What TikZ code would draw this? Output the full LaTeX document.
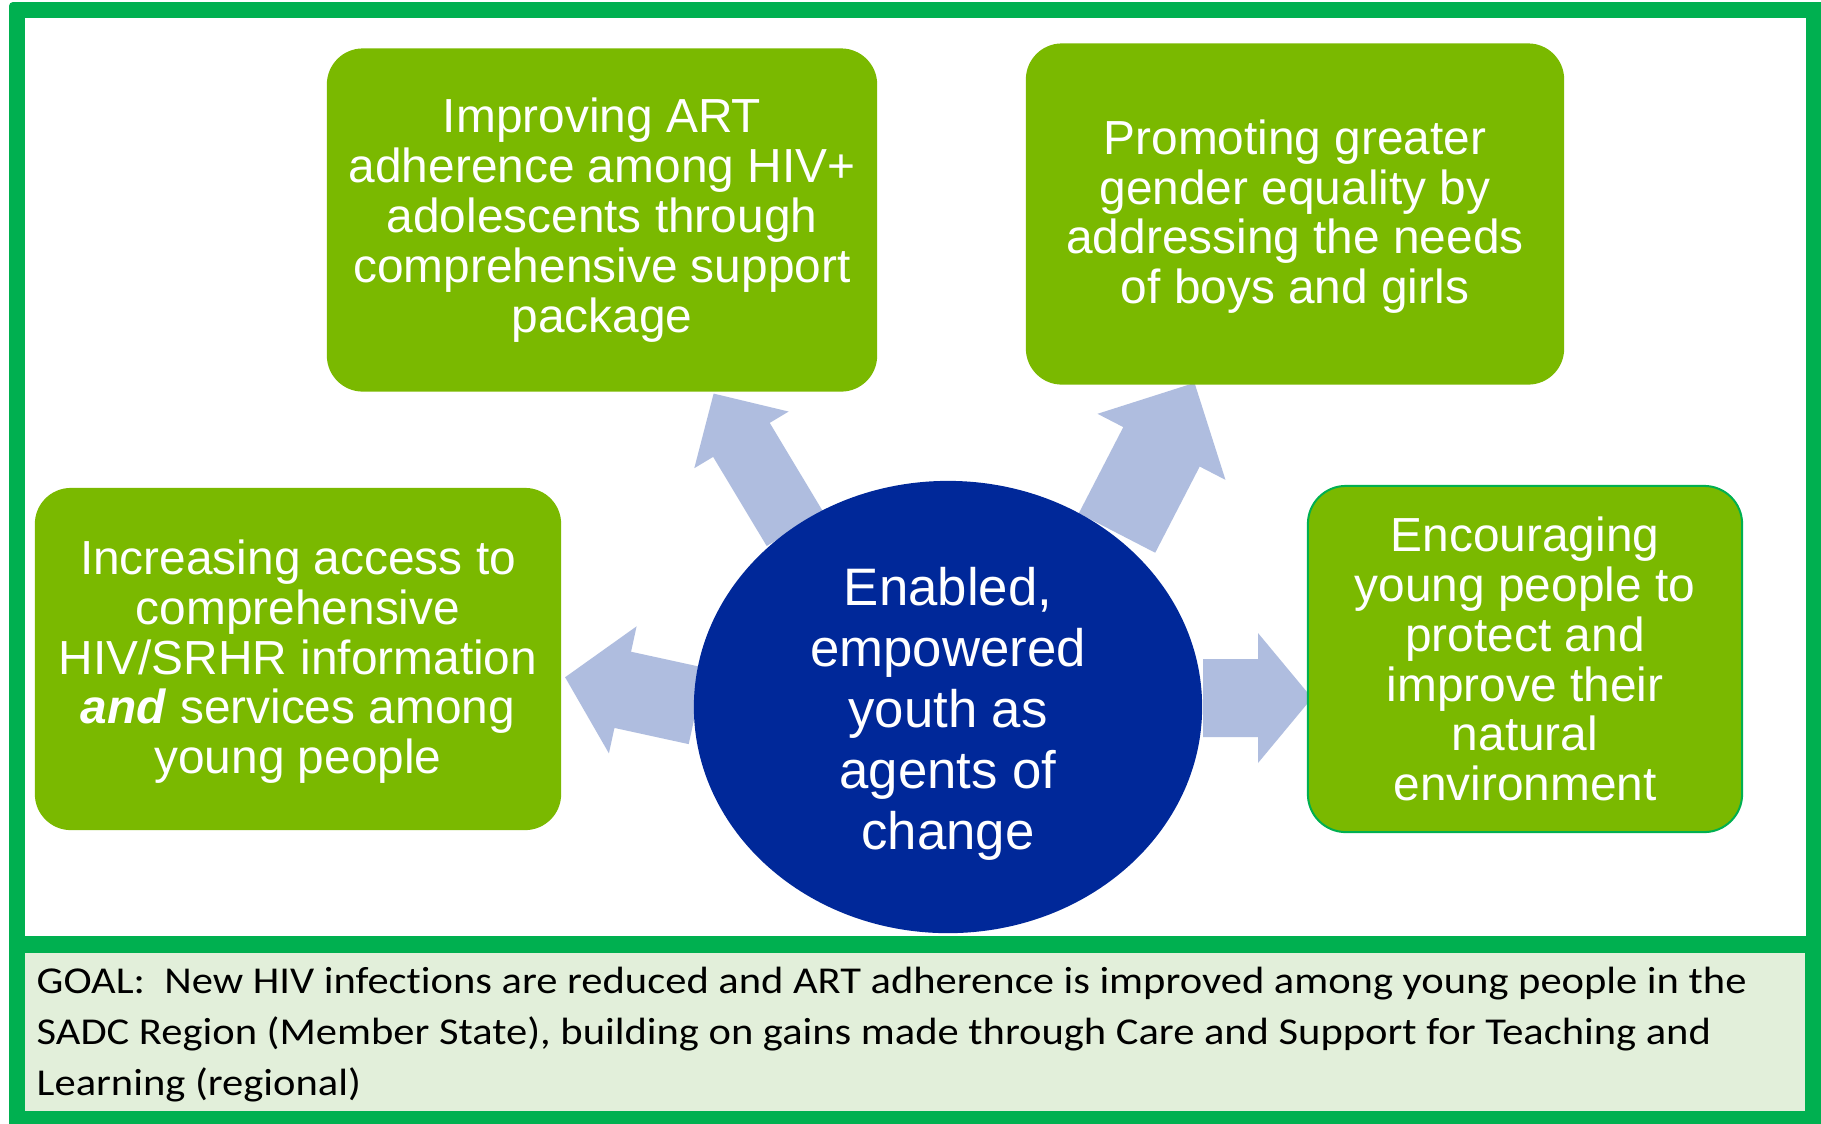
\documentclass[tikz,border=0pt]{standalone}
\usepackage{fontspec}
\usepackage{tikz}
\usetikzlibrary{shapes.geometric}
\usetikzlibrary{backgrounds}
\newfontfamily\boxfont{Liberation Sans}
\newfontfamily\goalfont[FakeStretch=1.12,Ligatures=NoCommon]{Carlito}
\definecolor{framegreen}{RGB}{0,176,80}
\definecolor{boxgreen}{RGB}{122,185,0}
\definecolor{hubblue}{RGB}{0,40,153}
\definecolor{arrowblue}{RGB}{175,189,223}
\definecolor{goalgreen}{RGB}{226,239,218}
\tikzset{
  outcome/.style={rectangle, rounded corners=0.36cm, fill=boxgreen, text=white,
    align=center, inner sep=0pt,
    font=\boxfont\fontsize{13.6}{14.17}\selectfont},
  hub/.style={ellipse, fill=hubblue, text=white, align=center, inner sep=0pt,
    minimum width=5.08cm, minimum height=4.52cm,
    font=\boxfont\fontsize{15}{17.4}\selectfont},
  pointer/.style={fill=arrowblue},
  goaltext/.style={align=left, inner sep=0pt,
    font=\goalfont\fontsize{10.8}{14.4}\selectfont}
}

\begin{document}
\begin{tikzpicture}[x=0.01cm, y=-0.01cm]
    \useasboundingbox (0,0) rectangle (1821,1123);

    \node (hub) [hub] at (948,707) {\rule{0pt}{0.52cm}Enabled,\\empowered\\youth as\\agents of\\change};

    \node (art) [outcome, minimum width=5.5cm, minimum height=3.43cm] at (602,220)
      {Improving ART\\adherence among HIV+\\adolescents through\\comprehensive support\\package};
    \node (gender) [outcome, minimum width=5.38cm, minimum height=3.41cm] at (1295,214)
      {\rule{0pt}{0.4cm}Promoting greater\\gender equality by\\addressing the needs\\of boys and girls};
    \node (access) [outcome, minimum width=5.26cm, minimum height=3.42cm] at (298,659)
      {\rule{0pt}{0.4cm}Increasing access to\\comprehensive\\HIV/SRHR information\\\textbf{\textit{and}} services among\\young people};
    \node (nature) [outcome, draw=framegreen, line width=0.02cm, rounded corners=0.38cm,
      minimum width=4.34cm, minimum height=3.46cm] at (1525,659)
      {Encouraging\\young people to\\protect and\\improve their\\natural\\environment};

    \node (goal) [goaltext, anchor=base west] at (36,1095)
      {GOAL:\ \ New HIV infections are reduced and ART adherence is improved among young people in the\\
       SADC Region (Member State), building on gains made through Care and Support for Teaching and\\
       Learning (regional)};

    \begin{scope}[on background layer]
      % frame and goal panel
      \fill[framegreen, rounded corners=0.04cm] (9,2) rectangle (1840,1140);
      \fill[white] (25,18) rectangle (1806,936);
      \fill[goalgreen] (25,953) rectangle (1805,1111);

      % block arrows from the hub
      \begin{scope}[shift={(795,529)}, rotate=121]
        \fill[pointer] (0,-33) -- (104,-33) -- (104,-55) -- (158,0) -- (104,55) -- (104,33) -- (0,33) -- cycle;
      \end{scope}
      \begin{scope}[shift={(1117,533)}, rotate=62.7]
        \fill[pointer] (0,-43) -- (97,-43) -- (97,-72) -- (169,0) -- (97,72) -- (97,43) -- (0,43) -- cycle;
      \end{scope}
      \begin{scope}[shift={(697,706)}, rotate=167.7]
        \fill[pointer] (0,-39) -- (76,-39) -- (76,-65) -- (135,0) -- (76,65) -- (76,39) -- (0,39) -- cycle;
      \end{scope}
      \begin{scope}[shift={(1203,698)}]
        \fill[pointer] (0,-39) -- (55,-39) -- (55,-65) -- (109,0) -- (55,65) -- (55,39) -- (0,39) -- cycle;
      \end{scope}
    \end{scope}
  \end{tikzpicture}
\end{document}
